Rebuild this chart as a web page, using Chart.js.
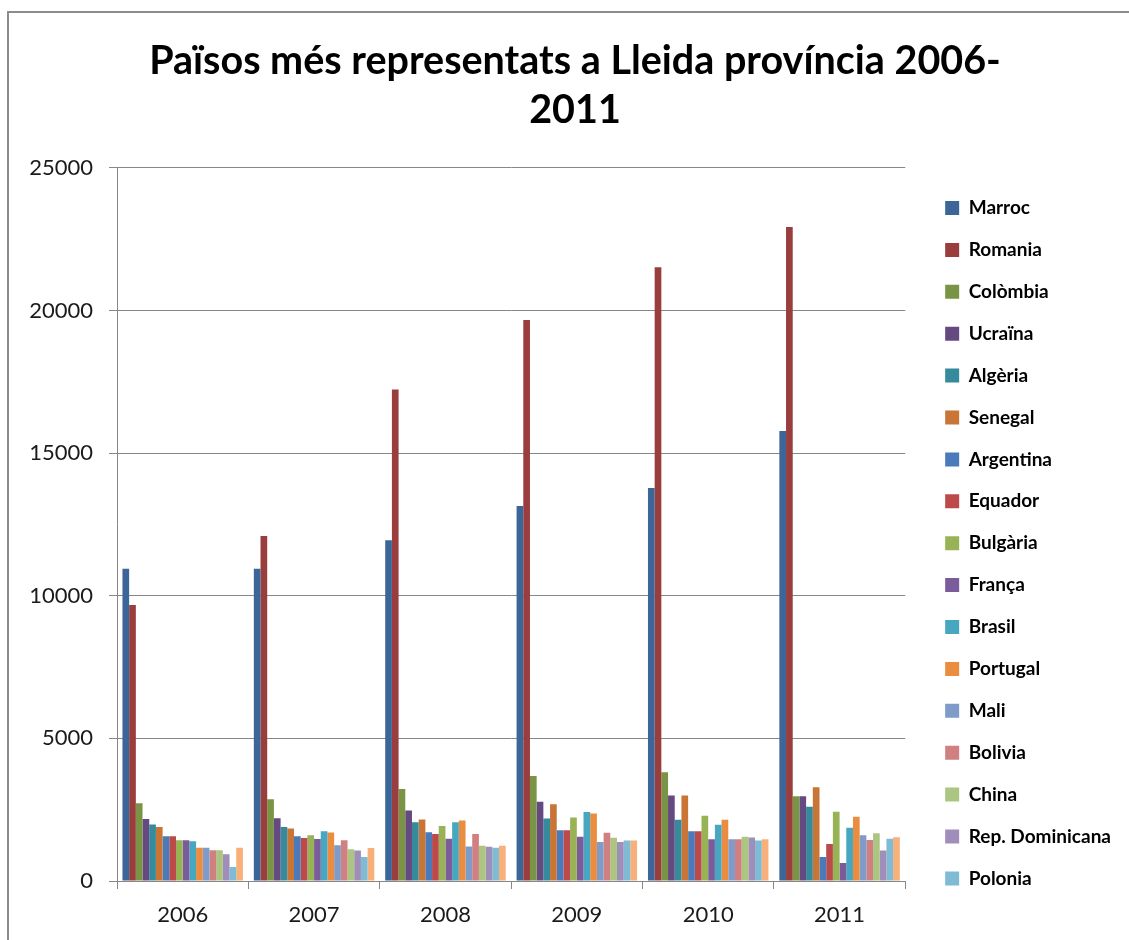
<!DOCTYPE html>
<html><head><meta charset="utf-8">
<script src="https://cdn.jsdelivr.net/npm/chart.js@4.4.1/dist/chart.umd.min.js"></script>
<style>
html,body{margin:0;padding:0;background:#fff;}
#wrap{position:relative;width:1129px;height:940px;overflow:hidden;}
canvas{position:absolute;left:0;top:0;}
#frame{position:absolute;left:7px;top:11px;width:1140px;height:950px;border-left:2px solid #8c8c8c;border-top:2px solid #8c8c8c;pointer-events:none;}
</style></head><body>
<div id="wrap"><canvas id="c" width="1129" height="940"></canvas><div id="frame"></div></div>
<script>
const years = ['2006', '2007', '2008', '2009', '2010', '2011'];
const seriesNames = ['Marroc', 'Romania', 'Colòmbia', 'Ucraïna', 'Algèria', 'Senegal', 'Argentina', 'Equador', 'Bulgària', 'França', 'Brasil', 'Portugal', 'Mali', 'Bolivia', 'China', 'Rep. Dominicana', 'Polonia', 'Sèrie 18'];
const marroc    = [10950, 10950, 11950, 13150, 13780, 15780];
const romania   = [9680, 12100, 17230, 19670, 21520, 22930];
const colombia  = [2730, 2870, 3230, 3680, 3810, 2970];
const ucraina   = [2170, 2200, 2470, 2780, 3000, 2970];
const algeria   = [1980, 1890, 2060, 2190, 2150, 2600];
const senegal   = [1890, 1840, 2160, 2690, 3000, 3290];
const argentina = [1570, 1570, 1710, 1780, 1740, 840];
const equador   = [1570, 1510, 1650, 1780, 1740, 1300];
const bulgaria  = [1430, 1600, 1930, 2230, 2290, 2430];
const franca    = [1430, 1475, 1480, 1555, 1465, 630];
const brasil    = [1390, 1745, 2060, 2420, 1970, 1865];
const portugal  = [1170, 1700, 2120, 2370, 2150, 2250];
const mali      = [1170, 1250, 1210, 1370, 1465, 1605];
const bolivia   = [1080, 1430, 1650, 1690, 1465, 1440];
const china     = [1080, 1110, 1240, 1515, 1550, 1670];
const repDom    = [940, 1065, 1200, 1370, 1525, 1070];
const polonia   = [490, 840, 1170, 1420, 1420, 1480];
const serie18   = [1170, 1160, 1240, 1420, 1465, 1530];
const yTicks = [0, 5000, 10000, 15000, 20000, 25000];
const titleLines = ['Països més representats a Lleida província 2006-', '2011'];

const seriesValues = [marroc, romania, colombia, ucraina, algeria, senegal, argentina, equador, bulgaria, franca, brasil, portugal, mali, bolivia, china, repDom, polonia, serie18];
const palette = ['#3D6698', '#9A3D3D', '#7A9445', '#644A80', '#358A9B', '#C87536', '#4A7ABA', '#BC4A4A', '#98B356', '#7B5C9A', '#47A6C0', '#EA8D40', '#7E9BCA', '#D08080', '#ACC682', '#9F8DBA', '#7FBCD3', '#F8AF7A'];
const LEGEND_COUNT = 17;

const datasets = seriesNames.map((name, i) => ({
  label: name,
  data: seriesValues[i],
  backgroundColor: palette[i],
  borderWidth: 0,
  categoryPercentage: 0.917,
  barPercentage: 1.0
}));

const gridCol = '#878787';

// empty layout box that keeps a gap between the plot and the legend
const legendGap = {
  id: 'legendGap',
  afterInit(chart) {
    const box = {
      position: 'right', weight: 500, fullSize: false, options: {},
      left: 0, top: 0, right: 0, bottom: 0, width: 0, height: 0,
      isHorizontal() { return false; },
      update(maxW, maxH) { this.width = 17; this.height = maxH; },
      draw() {}
    };
    Chart.layouts.addBox(chart, box);
  }
};

new Chart(document.getElementById('c'), {
  type: 'bar',
  data: { labels: years, datasets },
  plugins: [legendGap],
  options: {
    responsive: false,
    animation: false,
    devicePixelRatio: 1,
    layout: { padding: { left: 29, right: 8, top: 0, bottom: -1 } },
    plugins: {
      title: {
        display: true,
        text: titleLines,
        color: '#000',
        font: { family: 'Lato', size: 39.5, weight: 'bold', lineHeight: 1.24 },
        padding: { top: 36.5, bottom: 33.5 }
      },
      legend: {
        position: 'right',
        align: 'start',
        maxWidth: 260,
        title: { display: true, text: '', padding: { top: 161.2, bottom: 0 } },
        labels: {
          color: '#000',
          font: { family: 'Lato', size: 19, weight: 'bold' },
          boxWidth: 14,
          boxHeight: 14,
          padding: 22.9,
          filter: (item) => item.datasetIndex < LEGEND_COUNT
        }
      },
      tooltip: { enabled: false }
    },
    scales: {
      x: {
        grid: { display: true, drawOnChartArea: false, drawTicks: true, tickLength: 8, color: gridCol, offset: true },
        border: { color: gridCol, width: 1 },
        ticks: { color: '#1a1a1a', font: { family: 'Lato', size: 22, lineHeight: 1.0 }, padding: 15 }
      },
      y: {
        min: 0,
        max: 25000,
        afterBuildTicks: (s) => { s.ticks = yTicks.map(v => ({ value: v })); },
        afterFit: (s) => { s.width = 88; },
        grid: { color: gridCol, tickLength: 8 },
        border: { color: gridCol, width: 1 },
        ticks: { color: '#1a1a1a', font: { family: 'Lato', size: 22 }, padding: 16, callback: (v) => String(v) }
      }
    }
  }
});
</script>
</body></html>
